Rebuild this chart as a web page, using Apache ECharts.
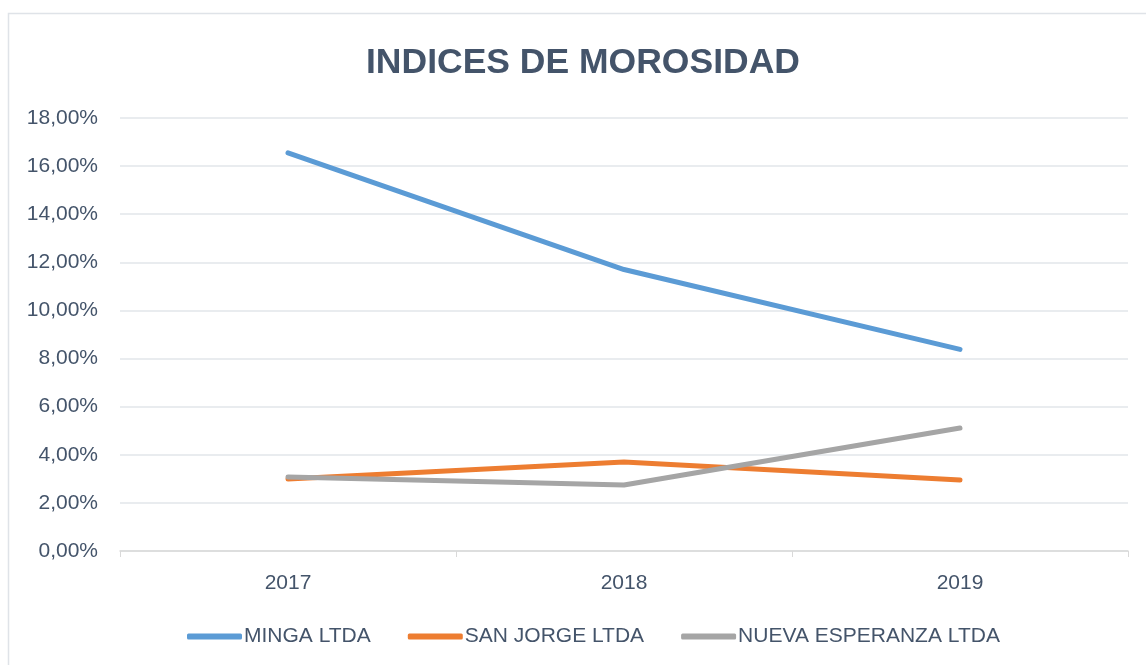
<!DOCTYPE html>
<html>
<head>
    <meta charset="utf-8">
    <title>Indices de morosidad</title>
    <script src="https://cdn.jsdelivr.net/npm/echarts@6/dist/echarts.min.js"></script>
    <style>
        html, body { margin: 0; padding: 0; background: #fff; }
        #chart { width: 1146px; height: 665px; }
    </style>
</head>
<body>
<div id="chart"></div>
<script>
    // datos
    var years = ['2017', '2018', '2019'];
    var minga = [16.55, 11.7, 8.38];
    var sanJorge = [2.99, 3.7, 2.95];
    var nuevaEsperanza = [3.08, 2.74, 5.11];
    var seriesNames = ['MINGA LTDA', 'SAN JORGE LTDA', 'NUEVA ESPERANZA LTDA'];
    var colors = ['#5B9BD5', '#ED7D31', '#A5A5A5'];

    var textColor = '#44546A';
    var font = 'Liberation Sans';

    function lineSerie(name, data, color) {
        return {
            name: name,
            type: 'line',
            data: data,
            symbol: 'none',
            showSymbol: false,
            smooth: false,
            lineStyle: { width: 5, color: color, cap: 'round' },
            itemStyle: { color: color }
        };
    }

    var chart = echarts.init(document.getElementById('chart'));
    chart.setOption({
        animation: false,
        backgroundColor: '#fff',
        graphic: [{
            type: 'rect',
            shape: { x: 8.5, y: 13.5, width: 1150, height: 660 },
            style: { fill: 'none', stroke: '#dfe3e8', lineWidth: 1.5 },
            silent: true
        }],
        title: {
            text: 'INDICES DE MOROSIDAD',
            left: 361,
            top: 40,
            textStyle: { color: textColor, fontSize: 35.5, fontWeight: 'bold', fontFamily: font }
        },
        legend: {
            bottom: 13,
            left: 182,
            icon: 'roundRect',
            itemWidth: 55,
            itemHeight: 6,
            itemGap: 37,
            textStyle: { color: textColor, fontSize: 21, fontFamily: font, padding: [0, 0, 0, -3] },
            data: seriesNames
        },
        grid: { left: 120, right: 18, top: 118, bottom: 114, containLabel: false },
        xAxis: {
            type: 'category',
            data: years,
            boundaryGap: true,
            axisLine: { lineStyle: { color: '#d9d9d9', width: 1.5 } },
            axisTick: { show: true, length: 6, lineStyle: { color: '#d9d9d9' } },
            axisLabel: { color: textColor, fontSize: 21, fontFamily: font, margin: 22 }
        },
        yAxis: {
            type: 'value',
            min: 0,
            max: 18,
            interval: 2,
            axisLine: { show: false },
            axisTick: { show: false },
            splitLine: { lineStyle: { color: '#e2e6ea', width: 1.5 } },
            axisLabel: {
                color: textColor,
                fontSize: 21,
                fontFamily: font,
                margin: 22,
                formatter: function (v) { return v.toFixed(2).replace('.', ',') + '%'; }
            }
        },
        series: [
            lineSerie(seriesNames[0], minga, colors[0]),
            lineSerie(seriesNames[1], sanJorge, colors[1]),
            lineSerie(seriesNames[2], nuevaEsperanza, colors[2])
        ]
    });
</script>
</body>
</html>
